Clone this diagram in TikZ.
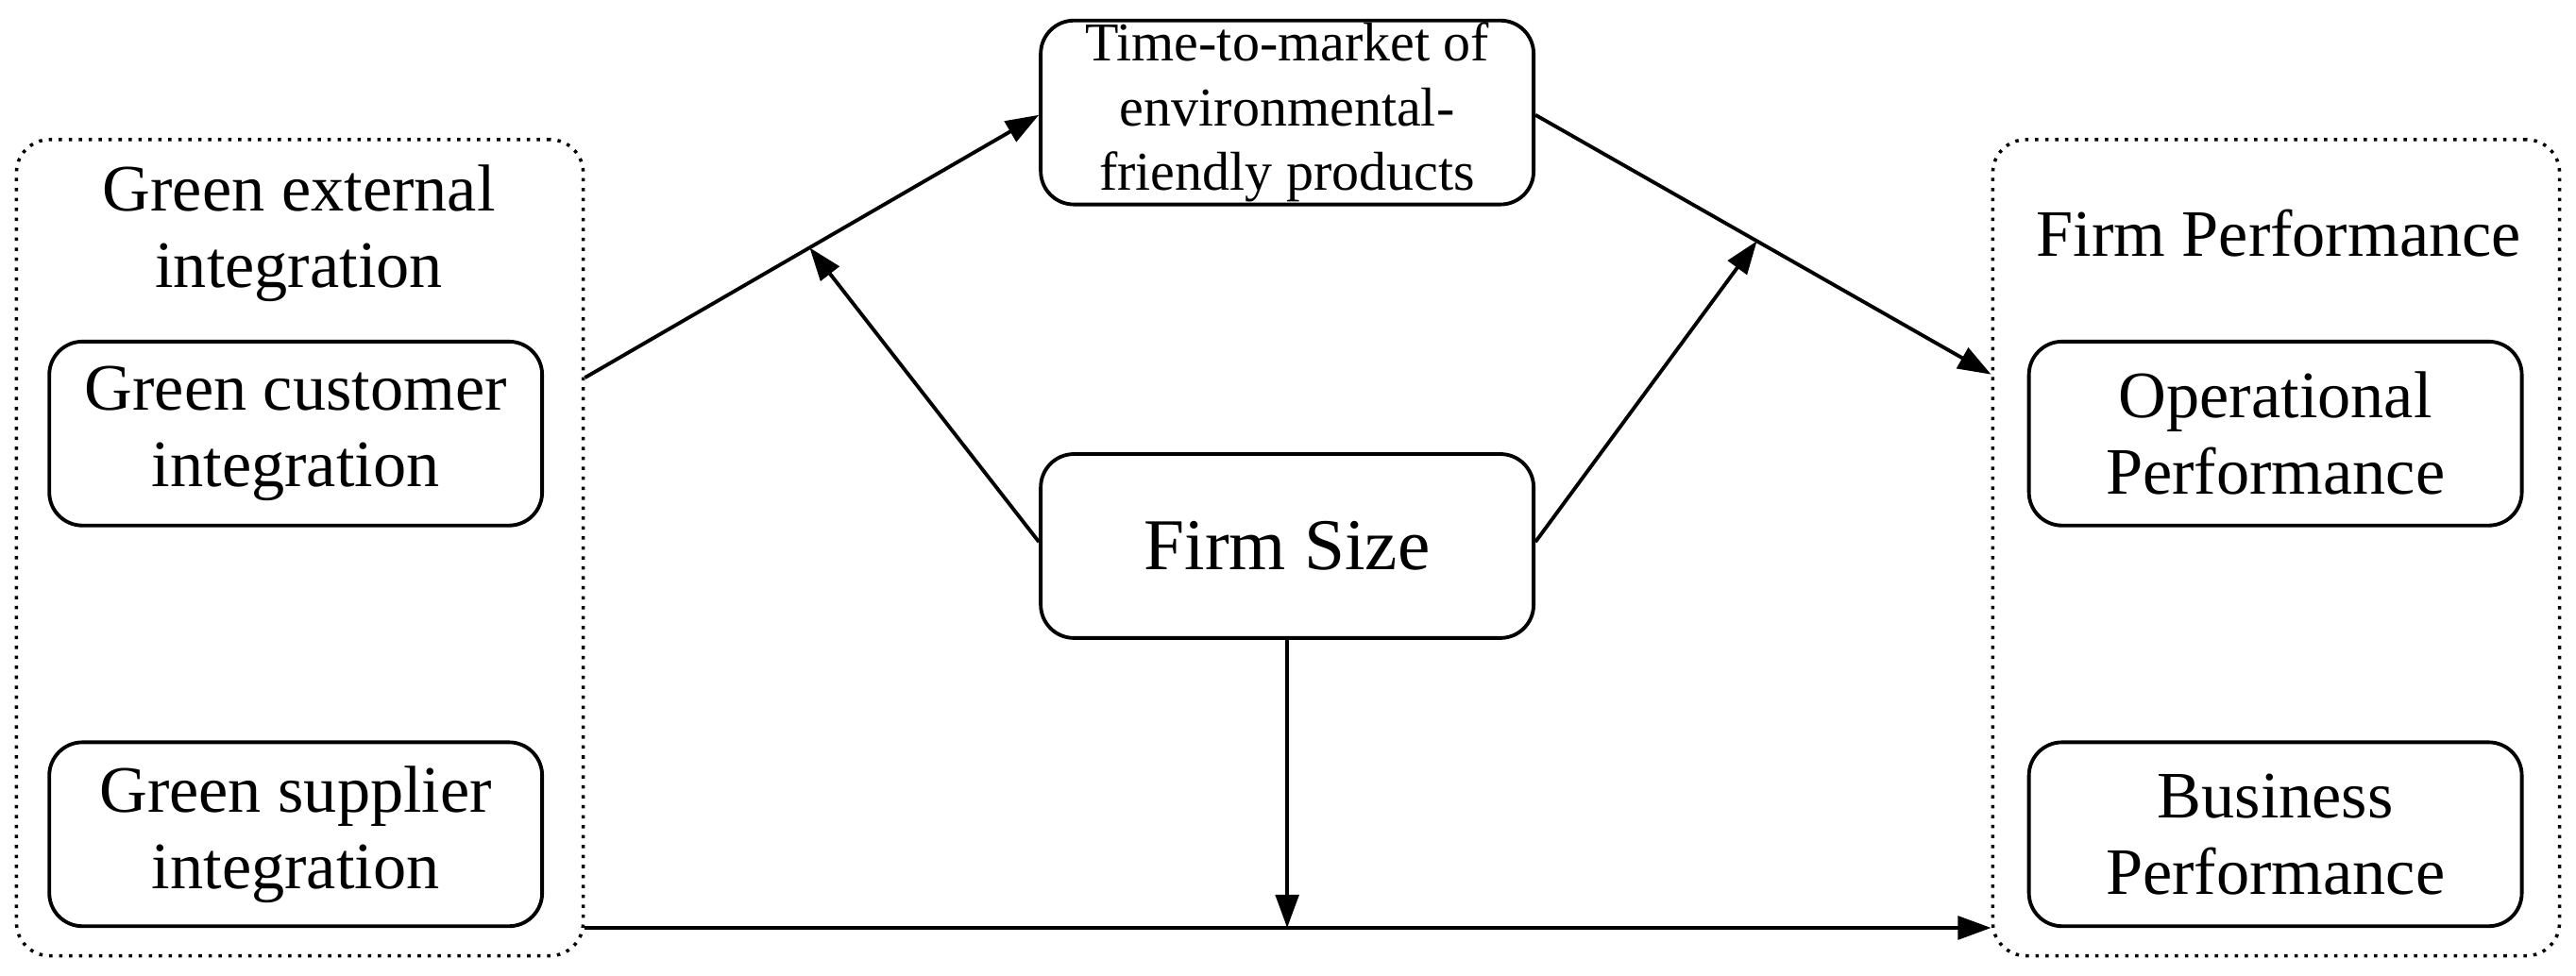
\documentclass[tikz,border=0pt]{standalone}
\usepackage{fontspec}
\setmainfont{Liberation Serif}
\usetikzlibrary{arrows.meta}
\begin{document}
\begin{tikzpicture}[x=0.0174cm,y=-0.0174cm,
  box/.style={draw,line width=1.1pt,rounded corners=10pt,align=center,inner sep=0pt,minimum width=300*0.0174cm,minimum height=112*0.0174cm},
  grp/.style={draw,dotted,line width=1pt,rounded corners=10pt,inner sep=0pt,minimum width=345*0.0174cm,minimum height=497*0.0174cm},
  arr/.style={line width=1.1pt,-{Triangle[length=10pt,width=7pt]}},
  txt/.style={font=\fontsize{20}{23}\selectfont}]
\useasboundingbox (0,0) rectangle (1568,594);
\node[grp] (L) at (182.5,333.5) {};
\node[grp] (R) at (1385.5,333.5) {};
\node[txt,align=center] (gei) at (182,142) {Green external\\integration};
\node[txt,align=center] (fp) at (1387,142) {Firm Performance};
\node[box,txt] (gc) at (180,264) {Green customer\\integration};
\node[box,txt] (gs) at (180,508) {Green supplier\\integration};
\node[box,txt] (op) at (1385,264) {Operational\\Performance};
\node[box,txt] (bp) at (1385,508) {Business\\Performance};
\node[box,font=\fontsize{16.5}{19.5}\selectfont] (tm) at (783.5,68.5) {Time-to-market of\\environmental-\\friendly products};
\node[box,font=\fontsize{22}{26}\selectfont] (fs) at (783.5,332.5) {Firm Size};
\coordinate (a1) at (L.east |- 0,230);
\coordinate (a2) at (tm.west |- 0,70);
\coordinate (b1) at (tm.east |- 0,70);
\coordinate (b2) at (R.west |- 0,228);
\coordinate (c1) at (L.east |- 0,565);
\coordinate (c2) at (R.west |- 0,565);
\draw[arr] (a1) -- coordinate[pos=0.495] (am) (a2);
\draw[arr] (b1) -- coordinate[pos=0.486] (bm) (b2);
\draw[arr] (c1) -- (c2);
\coordinate (cm) at (fs.south |- c1);
\draw[arr] (fs.west |- 0,330) -- (am);
\draw[arr] (fs.east |- 0,330) -- (bm);
\draw[arr] (fs.south) -- (cm);
\end{tikzpicture}
\end{document}
